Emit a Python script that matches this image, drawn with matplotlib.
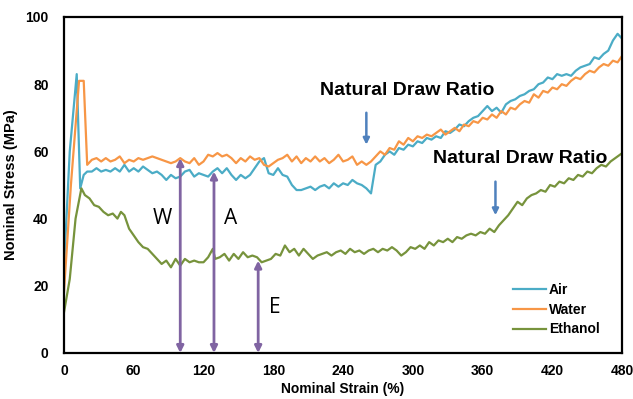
import numpy as np
import matplotlib
matplotlib.use("Agg")
import matplotlib.pyplot as plt

plt.rcParams['font.family'] = ['Liberation Sans', 'DejaVu Sans']

## -------------------- data ------------------- ##
air_strain = [0, 5, 11, 14, 17, 20] + list(range(24, 481, 4))
air_stress = [25, 60, 83, 49, 53, 54,
              54, 55, 54, 54.5, 54, 55, 54, 56, 54, 55, 54, 55.5, 54.5, 53.5, 54, 53,
              51.5, 53, 52, 52.5, 54, 54.5, 52.5, 53.5, 53, 52.5, 54, 55, 53.5, 55, 53,
              51.5, 53, 52, 53, 55, 57, 58, 53.5, 53, 55, 53, 52.5, 50, 48.5, 48.5, 49,
              49.5, 48.5, 49.5, 50, 49, 50.5, 49.5, 50.5, 50, 51.5, 50.5, 50, 49, 47.5,
              56, 57, 59, 60, 59, 61, 60.5, 62, 61.5, 63, 62.5, 64, 63.5, 64.5, 64, 66,
              65.5, 66.5, 68, 67.5, 69, 70, 70.5, 72, 73.5, 72, 73, 71.5, 74, 75, 75.5,
              76.5, 77, 78, 78.5, 80, 80.5, 82, 81.5, 83, 82.5, 83, 82.5, 84, 85, 85.5,
              86, 88, 87.5, 89, 90, 93, 95, 93.5]

water_strain = [0, 6, 13, 17, 20] + list(range(24, 481, 4))
water_stress = [18, 50, 81, 81, 56,
                57.5, 58, 57, 58, 57, 57.5, 58.5, 56.5, 57.5, 57, 58, 57.5, 58, 58.5, 58,
                57.5, 57, 56.5, 57, 58, 57, 56.5, 58, 56, 57, 59, 58.5, 59.5, 58.5, 59, 58,
                56.5, 58, 57, 58.5, 57.5, 58, 56, 55.5, 56.5, 57.5, 58, 59, 57, 58.5, 56.5,
                58, 57, 58.5, 57, 58, 56.5, 57.5, 59, 57, 57.5, 58.5, 56, 57, 56, 57, 58.5,
                60, 59, 61, 60.5, 63, 62, 64, 63, 64.5, 64, 65, 64.5, 65.5, 66.5, 65, 66,
                67, 66, 68, 67.5, 69, 68.5, 70, 69.5, 71, 70, 72, 71, 73, 72.5, 74, 75,
                74.5, 77, 76, 78, 77.5, 79, 78.5, 80, 79.5, 81, 82, 81.5, 83, 84, 83.5, 85,
                86, 85.5, 87, 86.5, 88.5]

ethanol_strain = [0, 5, 10, 15, 18, 22, 26, 30, 34, 38, 42, 46, 49, 52, 56, 60, 64, 68,
                  72, 76, 80, 84, 88, 92, 96, 100, 104, 108, 112, 116, 120, 124, 128] \
                 + list(range(130, 479, 4)) + [480]
ethanol_stress = [12, 22, 40, 49, 47, 46, 44, 43.5, 42, 41, 41.5, 40, 42, 41, 37, 35, 33,
                  31.5, 31, 29.5, 28, 26.5, 27.5, 25.5, 28, 26, 28, 27, 27.5, 27, 27, 28.5,
                  31,
                  28, 28.5, 29.5, 27.5, 29.5, 28, 30, 28.5, 29, 28.5, 27, 27.5, 28, 29.5, 29,
                  32, 30, 31, 29, 31, 29.5, 28, 29, 29.5, 30, 29, 30, 30.5, 29.5, 31, 30,
                  30.5, 29.5, 30.5, 31, 30, 31, 30.5, 31.5, 30.5, 29, 30, 31.5, 31, 32, 31,
                  33, 32, 33.5, 33, 34, 33, 34.5, 34, 35, 35.5, 35, 36, 35.5, 37, 36, 38,
                  39.5, 41, 43, 45, 44, 46, 47, 47.5, 48.5, 48, 50, 49.5, 51, 50.5, 52, 51.5,
                  53, 52.5, 54, 53.5, 55, 56, 55.5, 57, 58, 59,
                  59.5]

series_names = ['Air', 'Water', 'Ethanol']
series_colors = ['#4BACC6', '#F79646', '#77933C']

# purple double arrows: label, strain, top stress, label position
arrow_labels = ['W', 'A', 'E']
arrow_strain = [100, 129, 167]
arrow_top = [58, 54, 27.5]
arrow_label_x = [85, 143, 181]
arrow_label_y = [40, 40, 13.5]

# natural draw ratio markers
ndr_strain = [260, 371]
ndr_arrow_from = [71.5, 51]
ndr_arrow_to = [62, 41]
ndr_text_x = [295, 392]
ndr_text_y = [78, 58]

## -------------------- plot ------------------- ##
fig = plt.figure(figsize=(6.33, 3.99), dpi=100)
ax = fig.add_axes([0.101, 0.1153, 0.882, 0.8421])

for xs, ys, name, c in zip([air_strain, water_strain, ethanol_strain],
                           [air_stress, water_stress, ethanol_stress],
                           series_names, series_colors):
    ax.plot(xs, ys, color=c, lw=1.6, label=name)

for lab, xs, top, lx, ly in zip(arrow_labels, arrow_strain, arrow_top,
                                arrow_label_x, arrow_label_y):
    ax.annotate('', xy=(xs, top), xytext=(xs, 0),
                arrowprops=dict(arrowstyle='<|-|>', color='#8064A2', lw=2,
                                mutation_scale=10, shrinkA=0, shrinkB=0))
    ax.text(lx, ly, lab, fontsize=15, ha='center', va='center',
            family=['Open Sans', 'DejaVu Sans'])

for xs, y0, y1, tx, ty in zip(ndr_strain, ndr_arrow_from, ndr_arrow_to,
                              ndr_text_x, ndr_text_y):
    ax.annotate('', xy=(xs, y1), xytext=(xs, y0),
                arrowprops=dict(arrowstyle='-|>', color='#4F81BD', lw=1.8,
                                mutation_scale=9, shrinkA=0, shrinkB=0))
    ax.text(tx, ty, 'Natural Draw Ratio', fontsize=14, fontweight='bold',
            ha='center', va='center')

ax.set_xlim(0, 480)
ax.set_ylim(0, 100)
ax.set_xticks(np.arange(0, 481, 60))
ax.set_yticks(np.arange(0, 101, 20))
ax.tick_params(length=0, labelsize=10)
ax.tick_params(axis='y', pad=11)
ax.tick_params(axis='x', pad=8)
for lbl in ax.get_xticklabels() + ax.get_yticklabels():
    lbl.set_fontweight('bold')
for s in ax.spines.values():
    s.set_linewidth(1.6)
    s.set_color('black')

ax.set_xlabel('Nominal Strain (%)', fontsize=10, fontweight='bold', labelpad=3)
ax.set_ylabel('Nominal Stress (MPa)', fontsize=10.5, fontweight='bold', labelpad=5)

leg = ax.legend(loc='lower right', bbox_to_anchor=(0.982, 0.012), frameon=False,
                prop={'weight': 'bold', 'size': 10}, handlelength=2.4,
                handletextpad=0.2, labelspacing=0.4)

fig.savefig('out.png', dpi=100)
